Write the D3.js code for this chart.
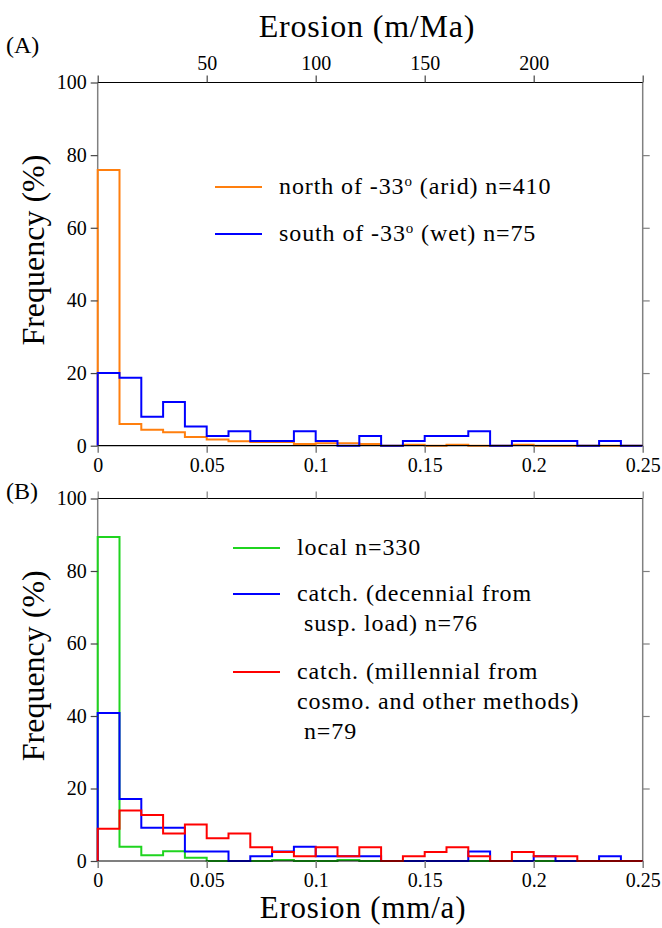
<!DOCTYPE html>
<html>
<head>
<meta charset="utf-8">
<script src="https://cdn.jsdelivr.net/npm/d3@7"></script>
<style>
  body { margin: 0; background: #fff; }
</style>
</head>
<body>
<svg id="chart" width="662" height="928"></svg>
<script>
var FONT = "'Liberation Serif', 'DejaVu Serif', serif";

// bin edges, 0 .. 0.25 mm/a in steps of 0.01
var binEdges = d3.range(26).map(function(i) { return i / 100; });

// panel A, frequency (%) per bin
var northArid = [75.9, 6.0, 4.4, 3.7, 2.4, 1.7, 1.2, 1.0, 1.0, 0.5, 0.7, 0.7, 0.5, 0, 0.25, 0, 0.25, 0, 0, 0.25, 0, 0, 0, 0, 0];
var southWet = [20.0, 18.7, 8.0, 12.0, 5.3, 2.7, 4.0, 1.3, 1.3, 4.0, 1.3, 0, 2.7, 0, 1.3, 2.7, 2.7, 4.0, 0, 1.3, 1.3, 1.3, 0, 1.3, 0];

// panel B
var localRates = [89.4, 3.9, 1.6, 2.7, 0.9, 0, 0, 0, 0.3, 0, 0, 0.3, 0, 0, 0, 0, 0, 0, 0, 0, 0, 0, 0, 0, 0];
var catchDecennial = [40.8, 17.1, 9.2, 9.2, 2.6, 2.6, 0, 1.3, 2.6, 3.9, 1.3, 1.3, 1.3, 0, 0, 0, 0, 2.6, 0, 0, 1.3, 0, 0, 1.3, 0];
var catchMillennial = [8.9, 13.9, 12.7, 7.6, 10.1, 6.3, 7.6, 3.8, 2.5, 1.3, 3.8, 1.3, 3.8, 0, 1.3, 2.5, 3.8, 1.3, 0, 2.5, 1.3, 1.3, 0, 0, 0];

var yTicks = [0, 20, 40, 60, 80, 100];
var xTicks = [0, 0.05, 0.1, 0.15, 0.2, 0.25];
var topTicks = [0, 50, 100, 150, 200, 250];

var svg = d3.select("#chart");

var x = d3.scaleLinear().domain([0, 0.25]).range([97.7, 642.7]);
var xTop = d3.scaleLinear().domain([0, 250]).range([97.7, 642.7]);

function stepPoints(vals) {
  var pts = [[binEdges[0], 0]];
  for (var i = 0; i < vals.length; i++) {
    pts.push([binEdges[i], vals[i]]);
    pts.push([binEdges[i + 1], vals[i]]);
  }
  pts.push([binEdges[vals.length], 0]);
  return pts;
}

function styleTickText(sel, size) {
  sel.attr("font-family", null).attr("font-size", null);
  sel.selectAll("text")
    .style("font-family", FONT)
    .style("font-size", size + "px")
    .attr("fill", "#000");
}

function drawPanel(y0, y1, series, opts) {
  var y = d3.scaleLinear().domain([0, 100]).range([y1, y0]);
  var g = svg.append("g");

  var line = d3.line()
    .x(function(d) { return x(d[0]); })
    .y(function(d) { return y(d[1]); });

  // spines parallel to y are grey
  g.append("line").attr("x1", x(0)).attr("x2", x(0)).attr("y1", y(0)).attr("y2", y(100))
    .attr("stroke", "#808080").attr("stroke-width", 1.5);
  g.append("line").attr("x1", x(0.25)).attr("x2", x(0.25)).attr("y1", y(0)).attr("y2", y(100))
    .attr("stroke", "#808080").attr("stroke-width", 1.5);

  series.forEach(function(s) {
    g.append("path")
      .attr("d", line(stepPoints(s.values)))
      .attr("fill", "none")
      .attr("stroke", s.color)
      .attr("stroke-width", 2);
  });

  g.append("line").attr("x1", x(0)).attr("x2", x(0.25)).attr("y1", y(0)).attr("y2", y(0))
    .attr("stroke", "#000").attr("stroke-width", 1.2);
  g.append("line").attr("x1", x(0)).attr("x2", x(0.25)).attr("y1", y(100)).attr("y2", y(100))
    .attr("stroke", "#000").attr("stroke-width", 1.2);

  // bottom x axis
  var xAxis = g.append("g").attr("transform", "translate(0," + y(0) + ")")
    .call(d3.axisBottom(x).tickValues(xTicks).tickSize(7).tickPadding(5)
      .tickFormat(function(d) { return d === 0 ? "0" : String(d); }));
  xAxis.select(".domain").remove();
  xAxis.selectAll(".tick line").attr("stroke", "#808080").attr("stroke-width", 1.5);
  styleTickText(xAxis, 20);

  // left and right y axes
  var yAxis = g.append("g").attr("transform", "translate(" + x(0) + ",0)")
    .call(d3.axisLeft(y).tickValues(yTicks).tickSize(7).tickPadding(4));
  yAxis.select(".domain").remove();
  yAxis.selectAll(".tick line").attr("stroke", "#444").attr("stroke-width", 1.2);
  styleTickText(yAxis, 20);

  var yRight = g.append("g").attr("transform", "translate(" + x(0.25) + ",0)")
    .call(d3.axisRight(y).tickValues(yTicks.slice(1, 5)).tickSize(7).tickFormat(""));
  yRight.select(".domain").remove();
  yRight.selectAll(".tick line").attr("stroke", "#808080").attr("stroke-width", 1.2);

  // y label
  g.append("text")
    .attr("transform", "translate(44," + ((y0 + y1) / 2 - 14) + ") rotate(-90)")
    .attr("text-anchor", "middle")
    .style("font-family", FONT)
    .style("font-size", "32px")
    .text("Frequency (%)");

  // legend
  var lg = g.append("g");
  series.forEach(function(s, i) {
    var ly = opts.legendY[i];
    lg.append("line")
      .attr("x1", opts.legendX).attr("x2", opts.legendX + 47)
      .attr("y1", ly).attr("y2", ly)
      .attr("stroke", s.color).attr("stroke-width", 2);
    s.label.forEach(function(row, j) {
      var t = lg.append("text")
        .attr("x", opts.legendX + opts.textGap)
        .attr("y", ly + 7 + j * 30)
        .attr("xml:space", "preserve")
        .style("font-family", FONT)
        .style("font-size", "24px")
        .style("letter-spacing", "0.9px");
      row.forEach(function(part) {
        var ts = t.append("tspan").text(part.t);
        if (part.sup) ts.attr("dy", -8).style("font-size", "15px");
        if (part.down) ts.attr("dy", 8);
      });
    });
  });
  return g;
}

// panel A
var gA = drawPanel(82.5, 445.7, [
  { values: northArid, color: "#ff7f0e",
    label: [[{ t: "north of -33" }, { t: "o", sup: true }, { t: " (arid) n=410", down: true }]] },
  { values: southWet, color: "#0000ff",
    label: [[{ t: "south of -33" }, { t: "o", sup: true }, { t: " (wet) n=75", down: true }]] }
], { legendX: 215, textGap: 64, legendY: [187, 234] });

// top axis in m/Ma
var topAxis = gA.append("g").attr("transform", "translate(0,82.5)")
  .call(d3.axisTop(xTop).tickValues(topTicks).tickSize(7).tickPadding(6)
    .tickFormat(function(d) { return (d === 0 || d === 250) ? "" : d; }));
topAxis.select(".domain").remove();
topAxis.selectAll(".tick line").attr("stroke", "#444").attr("stroke-width", 1.2);
styleTickText(topAxis, 20);

gA.append("text").attr("x", 367).attr("y", 37).attr("text-anchor", "middle")
  .style("font-family", FONT).style("font-size", "32px").style("letter-spacing", "0.8px")
  .text("Erosion (m/Ma)");
gA.append("text").attr("x", 6).attr("y", 53)
  .style("font-family", FONT).style("font-size", "24px").text("(A)");

// panel B
var gB = drawPanel(498.5, 861, [
  { values: localRates, color: "#1fd41f",
    label: [[{ t: "local n=330" }]] },
  { values: catchDecennial, color: "#0000ff",
    label: [[{ t: "catch. (decennial from" }], [{ t: " susp. load) n=76" }]] },
  { values: catchMillennial, color: "#ff0000",
    label: [[{ t: "catch. (millennial from" }], [{ t: "cosmo. and other methods)" }], [{ t: " n=79" }]] }
], { legendX: 233, textGap: 64, legendY: [548, 594, 672] });

var topB = gB.append("g").attr("transform", "translate(0,498.5)")
  .call(d3.axisTop(x).tickValues(xTicks).tickSize(7).tickFormat(""));
topB.select(".domain").remove();
topB.selectAll(".tick line").attr("stroke", "#808080").attr("stroke-width", 1.2);

gB.append("text").attr("x", 363).attr("y", 918).attr("text-anchor", "middle")
  .style("font-family", FONT).style("font-size", "31px").style("letter-spacing", "0.8px")
  .text("Erosion (mm/a)");
gB.append("text").attr("x", 6).attr("y", 499)
  .style("font-family", FONT).style("font-size", "24px").text("(B)");
</script>
</body>
</html>
